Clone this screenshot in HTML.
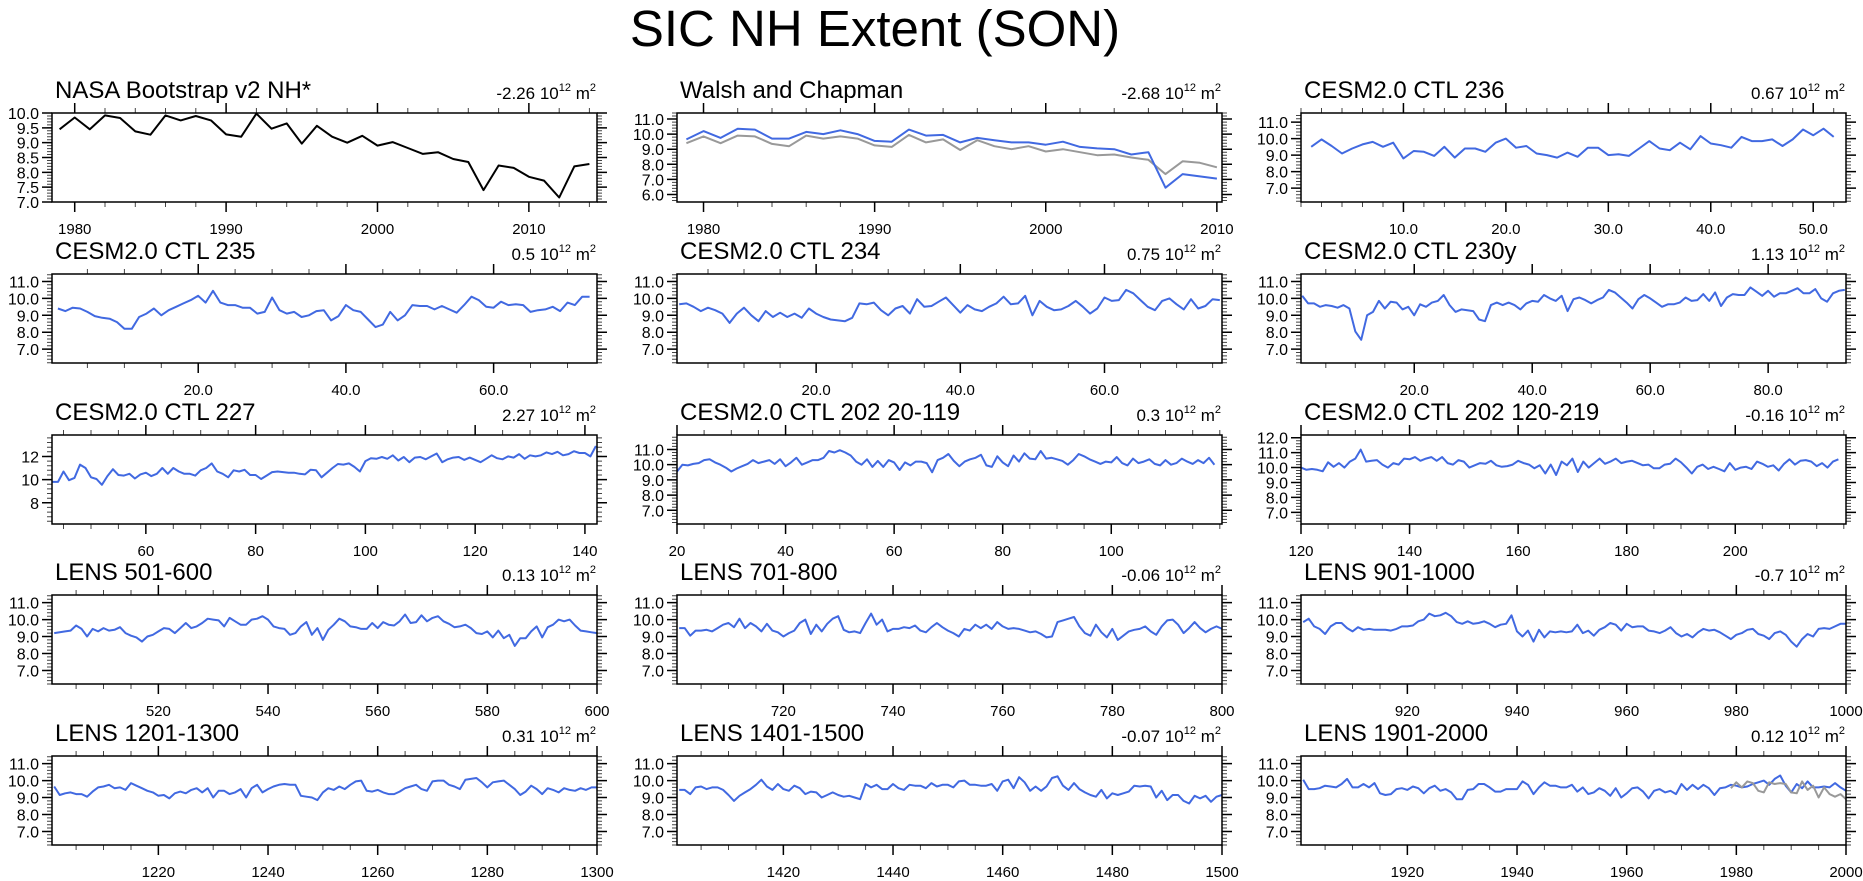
<!DOCTYPE html>
<html><head><meta charset="utf-8"><title>SIC NH Extent (SON)</title>
<style>
html,body{margin:0;padding:0;background:#fff;}
svg{display:block;font-family:"Liberation Sans",Arial,sans-serif;}
</style></head>
<body>
<svg id="chart" width="1863" height="881" viewBox="0 0 1863 881" xmlns="http://www.w3.org/2000/svg">
<text x="875" y="46" font-size="51" text-anchor="middle" fill="#000">SIC NH Extent (SON)</text>
</svg>
<script>
const titles = ["NASA Bootstrap v2 NH*","Walsh and Chapman","CESM2.0 CTL 236","CESM2.0 CTL 235","CESM2.0 CTL 234","CESM2.0 CTL 230y","CESM2.0 CTL 227","CESM2.0 CTL 202 20-119","CESM2.0 CTL 202 120-219","LENS 501-600","LENS 701-800","LENS 901-1000","LENS 1201-1300","LENS 1401-1500","LENS 1901-2000"];
const trends = ["-2.26","-2.68","0.67","0.5","0.75","1.13","2.27","0.3","-0.16","0.13","-0.06","-0.7","0.31","-0.07","0.12"];
const xStarts = [1979,1979,1,1,1,1,43,20,120,501,701,901,1201,1401,1901];
const xRanges = [[1978.5,2014.5],[1978.45,2010.3],[0,53.2],[0.2,74],[0.7,76.3],[0.8,93.2],[42.9,142.2],[20,120.4],[120,220.4],[500.6,600],[700.6,800],[900.6,1000],[1200.6,1300],[1400.6,1500],[1900.6,2000]];
const yRanges = [[7,10],[5.5,11.4],[6.16,11.55],[6.18,11.44],[6.18,11.44],[6.18,11.44],[6.17,13.85],[6.1,11.95],[6.22,12.18],[6.2,11.45],[6.2,11.45],[6.2,11.45],[6.2,11.45],[6.2,11.45],[6.2,11.45]];
const yTicks = [[7,7.5,8,8.5,9,9.5,10],[6,7,8,9,10,11],[7,8,9,10,11],[7,8,9,10,11],[7,8,9,10,11],[7,8,9,10,11],[8,10,12],[7,8,9,10,11],[7,8,9,10,11,12],[7,8,9,10,11],[7,8,9,10,11],[7,8,9,10,11],[7,8,9,10,11],[7,8,9,10,11],[7,8,9,10,11]];
const xTicks = [[1980,1990,2000,2010],[1980,1990,2000,2010],[10,20,30,40,50],[20,40,60],[20,40,60],[20,40,60,80],[60,80,100,120,140],[20,40,60,80,100],[120,140,160,180,200],[520,540,560,580,600],[720,740,760,780,800],[920,940,960,980,1000],[1220,1240,1260,1280,1300],[1420,1440,1460,1480,1500],[1920,1940,1960,1980,2000]];
const xTickLabels = [["1980","1990","2000","2010"],["1980","1990","2000","2010"],["10.0","20.0","30.0","40.0","50.0"],["20.0","40.0","60.0"],["20.0","40.0","60.0"],["20.0","40.0","60.0","80.0"],["60","80","100","120","140"],["20","40","60","80","100"],["120","140","160","180","200"],["520","540","560","580","600"],["720","740","760","780","800"],["920","940","960","980","1000"],["1220","1240","1260","1280","1300"],["1420","1440","1460","1480","1500"],["1920","1940","1960","1980","2000"]];

const nasa = [9.45,9.85,9.45,9.92,9.83,9.38,9.27,9.92,9.75,9.9,9.75,9.28,9.2,9.98,9.47,9.65,8.97,9.57,9.2,9.0,9.23,8.9,9.02,8.82,8.62,8.68,8.45,8.35,7.4,8.23,8.15,7.85,7.72,7.15,8.2,8.28];
const walshBlue = [9.65,10.2,9.75,10.35,10.3,9.7,9.7,10.15,10.0,10.25,10.0,9.55,9.5,10.3,9.9,9.95,9.45,9.75,9.6,9.45,9.45,9.3,9.5,9.15,9.05,9.0,8.65,8.8,6.45,7.35,7.2,7.05];
const walshGray = [9.4,9.85,9.4,9.9,9.85,9.35,9.2,9.9,9.7,9.85,9.7,9.25,9.15,9.95,9.45,9.65,8.95,9.6,9.2,9.0,9.2,8.85,9.0,8.8,8.6,8.65,8.45,8.3,7.35,8.2,8.1,7.8];
const ctl236 = [9.5,9.95,9.55,9.1,9.4,9.65,9.8,9.5,9.75,8.8,9.25,9.2,8.95,9.5,8.85,9.4,9.4,9.2,9.75,10.0,9.45,9.55,9.1,9.0,8.85,9.15,8.9,9.45,9.45,9.0,9.05,8.95,9.4,9.85,9.4,9.3,9.75,9.35,10.15,9.7,9.6,9.45,10.1,9.85,9.85,9.95,9.55,9.95,10.55,10.2,10.6,10.1];
const ctl235 = [9.4,9.25,9.45,9.4,9.2,8.95,8.85,8.8,8.6,8.2,8.2,8.9,9.1,9.4,9.0,9.3,9.5,9.7,9.9,10.15,9.75,10.45,9.75,9.6,9.6,9.45,9.45,9.1,9.2,10.05,9.3,9.1,9.2,8.9,9.0,9.25,9.3,8.7,8.95,9.6,9.3,9.2,8.75,8.3,8.45,9.2,8.7,9.0,9.6,9.55,9.55,9.35,9.55,9.35,9.15,9.6,10.1,9.9,9.5,9.45,9.8,9.6,9.65,9.6,9.2,9.3,9.35,9.5,9.25,9.75,9.6,10.1,10.1];
const ctl234 = [9.65,9.7,9.5,9.25,9.45,9.3,9.1,8.55,9.1,9.45,9.0,8.65,9.25,8.9,9.15,8.9,9.1,8.85,9.4,9.1,8.9,8.75,8.7,8.65,8.85,9.7,9.65,9.75,9.3,9.0,9.4,9.55,9.1,9.95,9.5,9.55,9.8,10.05,9.6,9.15,9.6,9.35,9.25,9.5,9.7,10.1,9.65,9.7,10.15,9.0,9.85,9.5,9.3,9.35,9.55,9.85,9.5,9.1,9.4,10.05,9.85,9.9,10.5,10.3,9.9,9.5,9.3,9.85,10.0,9.65,9.35,9.95,9.4,9.55,9.95,9.9];
const ctl230y = [10.15,9.7,9.7,9.5,9.6,9.55,9.45,9.6,9.4,8.05,7.55,9.0,9.2,9.85,9.4,9.8,9.75,9.35,9.5,9.0,9.65,9.5,9.75,9.85,10.2,9.6,9.2,9.35,9.3,9.25,8.75,8.65,9.6,9.75,9.6,9.75,9.6,9.35,9.7,9.85,9.8,10.2,10.0,9.85,10.15,9.25,9.95,10.05,9.9,9.7,9.9,10.05,10.5,10.35,10.05,9.75,9.4,9.95,10.2,10.0,9.75,9.5,9.65,9.65,9.75,10.05,9.85,9.9,10.25,9.85,10.35,9.55,10.05,10.25,10.2,10.2,10.65,10.4,10.15,10.45,10.1,10.3,10.3,10.45,10.6,10.3,10.3,10.55,10.0,9.8,10.3,10.45,10.5];
const ctl227 = [9.8,9.8,10.7,9.95,10.15,11.3,11.0,10.2,10.05,9.55,10.3,10.9,10.4,10.35,10.5,10.1,10.45,10.6,10.3,10.5,11.0,10.5,11.0,10.7,10.5,10.5,10.35,10.8,11.0,11.4,10.7,10.5,10.2,10.8,10.7,10.85,10.4,10.4,10.05,10.35,10.65,10.7,10.65,10.6,10.6,10.5,10.45,10.85,10.8,10.2,10.6,11.0,11.35,11.3,11.4,11.1,10.7,11.6,11.85,11.8,11.95,11.8,12.1,11.65,11.95,11.5,11.9,11.95,11.75,12.0,12.25,11.5,11.75,11.9,11.95,11.7,11.9,11.7,11.5,11.8,12.1,11.85,11.75,12.0,11.9,12.2,11.8,12.1,12.0,12.1,12.35,12.2,12.4,12.1,12.2,12.45,12.3,12.3,12.0,12.9];
const ctl202a = [9.55,10.0,9.95,10.05,10.1,10.3,10.35,10.15,10.0,9.8,9.55,9.75,9.9,10.05,10.3,10.1,10.2,10.3,10.05,10.35,9.9,10.15,10.45,10.0,10.15,10.3,10.3,10.45,10.9,10.8,10.95,10.8,10.6,10.2,10.0,10.35,9.85,10.25,9.85,10.3,10.15,9.65,10.15,9.95,10.2,10.2,10.1,9.5,10.3,10.45,10.7,10.25,9.9,10.2,10.35,10.45,10.65,9.95,9.85,10.55,10.15,9.9,10.6,10.2,10.75,10.4,10.35,10.9,10.4,10.45,10.35,10.25,10.0,10.3,10.7,10.55,10.35,10.2,10.05,10.2,10.15,10.5,10.1,9.95,10.4,10.1,10.2,10.35,10.05,9.95,10.3,10.0,10.1,10.4,10.2,10.05,10.3,10.1,10.45,10.0];
const ctl202b = [10.0,9.85,9.9,9.85,9.75,10.35,10.05,10.3,10.0,10.4,10.6,11.2,10.4,10.45,10.5,10.2,10.0,10.3,10.2,10.6,10.55,10.7,10.45,10.6,10.7,10.45,10.7,10.3,10.2,10.5,10.4,10.0,10.15,10.3,10.25,10.45,10.15,10.05,10.1,10.2,10.45,10.3,10.2,9.95,10.15,9.6,10.2,9.5,10.4,10.15,10.6,9.7,10.4,10.0,10.3,10.6,10.25,10.4,10.6,10.3,10.4,10.45,10.3,10.15,10.2,9.95,9.95,10.2,10.25,10.6,10.35,10.0,9.6,10.05,10.2,9.9,10.05,9.9,9.75,10.3,9.85,10.0,10.05,9.9,10.4,10.25,10.05,10.15,9.8,10.25,10.55,10.2,10.45,10.5,10.4,10.1,10.3,10.0,10.4,10.55];
const lens501 = [9.2,9.25,9.3,9.35,9.65,9.45,9.0,9.45,9.3,9.5,9.35,9.4,9.55,9.2,9.05,8.95,8.7,9.0,9.1,9.3,9.5,9.45,9.2,9.5,9.8,9.5,9.6,9.8,10.05,10.0,9.95,9.6,10.1,9.9,9.7,9.7,10.0,10.05,10.2,10.0,9.6,9.5,9.45,9.1,9.2,9.6,9.85,9.1,9.5,8.8,9.4,9.7,10.05,9.9,9.6,9.55,9.45,9.45,9.8,9.5,9.85,9.7,9.65,9.9,10.3,9.8,9.85,10.25,9.9,10.1,10.2,9.9,9.75,9.55,9.6,9.7,9.5,9.2,9.15,9.3,8.95,9.35,8.9,9.1,8.45,8.9,8.9,9.3,9.6,8.95,9.55,9.7,10.0,9.9,10.0,9.65,9.35,9.3,9.25,9.2];
const lens701 = [9.5,9.5,9.05,9.35,9.35,9.4,9.3,9.5,9.7,9.8,9.55,10.05,9.5,9.8,9.6,9.3,9.75,9.35,9.25,9.0,9.2,9.35,9.8,10.0,9.15,9.7,9.3,9.75,10.05,10.2,9.4,9.25,9.3,9.2,9.8,10.35,9.7,10.0,9.3,9.45,9.45,9.55,9.5,9.65,9.35,9.25,9.55,9.8,9.55,9.35,9.2,9.0,9.45,9.35,9.7,9.5,9.7,9.45,9.85,9.6,9.45,9.5,9.45,9.35,9.25,9.3,9.15,8.95,9.0,9.85,9.95,10.05,10.15,9.6,9.2,9.05,9.7,9.25,8.95,9.45,8.8,9.05,9.3,9.4,9.45,9.6,9.3,9.1,9.6,9.95,10.0,9.7,9.2,9.5,9.85,9.5,9.25,9.45,9.6,9.45];
const lens901 = [9.85,10.05,9.6,9.45,9.15,9.6,9.8,9.8,9.5,9.3,9.55,9.4,9.45,9.4,9.4,9.4,9.35,9.45,9.6,9.6,9.65,9.9,10.0,10.35,10.2,10.25,10.4,10.2,9.85,9.75,9.9,9.75,9.8,9.9,9.75,9.55,9.7,9.75,10.25,9.3,9.0,9.35,8.7,9.4,8.95,9.3,9.25,9.3,9.25,9.3,9.7,9.2,9.35,9.05,9.4,9.55,9.8,9.7,9.35,9.75,9.55,9.6,9.6,9.35,9.3,9.2,9.35,9.55,9.2,9.0,9.15,8.95,9.25,9.45,9.35,9.4,9.25,9.05,8.85,9.1,9.2,9.4,9.45,9.15,9.05,8.85,9.2,9.3,9.1,8.7,8.4,8.85,9.15,9.0,9.45,9.5,9.45,9.6,9.75,9.75];
const lens1201 = [9.65,9.15,9.25,9.3,9.2,9.2,9.05,9.35,9.6,9.65,9.75,9.55,9.6,9.45,9.85,9.7,9.55,9.4,9.3,9.1,9.15,8.95,9.25,9.35,9.25,9.45,9.55,9.3,9.55,9.0,9.4,9.4,9.2,9.3,9.5,9.0,9.55,9.75,9.3,9.5,9.65,9.75,9.8,9.75,9.75,9.1,9.05,9.0,8.85,9.3,9.55,9.45,9.65,9.5,9.75,9.95,10.0,9.4,9.35,9.45,9.3,9.2,9.2,9.35,9.55,9.65,9.75,9.5,9.4,9.95,10.0,10.0,9.75,9.65,9.5,10.05,10.1,10.15,9.9,9.6,9.9,9.95,10.0,9.75,9.5,9.15,9.35,9.7,9.5,9.2,9.55,9.45,9.3,9.55,9.45,9.4,9.55,9.45,9.6,9.6];
const lens1401 = [9.45,9.45,9.2,9.6,9.65,9.5,9.6,9.6,9.45,9.15,8.8,9.1,9.3,9.5,9.75,10.05,9.65,9.45,9.8,9.5,9.4,9.7,9.55,9.2,9.35,9.3,9.0,9.15,9.3,9.15,9.05,9.1,9.0,8.9,9.8,9.6,9.75,9.5,9.5,9.8,9.55,9.45,9.75,9.7,9.7,9.55,9.85,9.65,9.75,9.75,9.6,9.95,10.0,9.75,9.75,9.7,9.7,9.8,9.4,9.95,10.05,9.55,10.2,9.9,9.4,9.65,9.4,9.65,10.15,10.25,9.7,9.45,9.85,9.5,9.3,9.15,9.05,9.45,8.95,9.25,9.15,9.25,9.35,9.7,9.65,9.7,9.65,9.0,9.4,8.85,9.15,9.15,8.8,8.65,9.1,8.95,9.1,8.75,9.05,9.15];
const lens1901 = [10.05,9.5,9.5,9.55,9.7,9.65,9.6,9.8,10.1,9.6,9.6,9.8,9.6,9.85,9.25,9.15,9.2,9.5,9.55,9.45,9.65,9.55,9.25,9.55,9.7,9.4,9.5,9.3,8.9,8.9,9.45,9.5,9.8,9.8,9.6,9.35,9.35,9.5,9.5,9.5,9.95,9.75,9.2,9.6,9.9,9.7,9.7,9.6,9.6,9.75,9.35,9.6,9.2,9.3,9.55,9.4,9.1,9.55,9.0,9.25,9.55,9.6,9.35,8.95,9.4,9.5,9.3,9.4,9.2,9.8,9.45,9.75,9.5,9.75,9.55,9.15,9.55,9.6,9.75,9.7,9.6,9.65,9.8,9.9,10.0,9.75,10.1,10.3,9.7,9.3,9.8,9.55,9.95,9.6,9.6,9.65,9.6,9.85,9.6,9.4];
const lens1901Obs = [9.55,9.9,9.6,9.95,9.85,9.4,9.3,9.9,9.8,9.85,9.8,9.3,9.25,9.95,9.45,9.7,9.0,9.6,9.2,9.05,9.2,8.9];

const seriesList = [
  [{d:nasa,c:"#000",s:1979}],
  [{d:walshGray,c:"#999",s:1979},{d:walshBlue,c:"#4169e1",s:1979}],
  [{d:ctl236,c:"#4169e1",s:1}],[{d:ctl235,c:"#4169e1",s:1}],[{d:ctl234,c:"#4169e1",s:1}],[{d:ctl230y,c:"#4169e1",s:1}],
  [{d:ctl227,c:"#4169e1",s:43}],[{d:ctl202a,c:"#4169e1",s:20}],[{d:ctl202b,c:"#4169e1",s:120}],
  [{d:lens501,c:"#4169e1",s:501}],[{d:lens701,c:"#4169e1",s:701}],[{d:lens901,c:"#4169e1",s:901}],
  [{d:lens1201,c:"#4169e1",s:1201}],[{d:lens1401,c:"#4169e1",s:1401}],
  [{d:lens1901,c:"#4169e1",s:1901},{d:lens1901Obs,c:"#999",s:1979}]
];
const xMinorSteps = [2,2,2,5,5,5,5,5,5,5,5,5,5,5,5];
const yMinorSteps = [0.1,0.2,0.2,0.2,0.2,0.2,0.4,0.2,0.2,0.2,0.2,0.2,0.2,0.2,0.2];

const NS="http://www.w3.org/2000/svg";
const svg=document.getElementById("chart");
const colLeft=[52,677,1301], rowTop=[113,274,435,595,756], PW=545, PH=89;
function mk(tag,attrs,parent){const e=document.createElementNS(NS,tag);for(const k in attrs)e.setAttribute(k,attrs[k]);(parent||svg).appendChild(e);return e;}

for(let p=0;p<15;p++){
  const L=colLeft[p%3], T=rowTop[Math.floor(p/3)], R=L+PW, B=T+PH;
  const [x0,x1]=xRanges[p], [y0,y1]=yRanges[p];
  const xs=v=>L+(v-x0)/(x1-x0)*PW;
  const ys=v=>B-(v-y0)/(y1-y0)*PH;
  const g=mk("g",{});
  
  
  const t=mk("text",{x:L+3,y:T-15,"font-size":24,fill:"#000"},g);
  
  
  t.textContent=titles[p];
  const st=mk("text",{x:R-1,y:T-14,"font-size":17,"text-anchor":"end",fill:"#000"},g);
  
  
  st.appendChild(document.createTextNode(trends[p]+" 10"));
  const s1=mk("tspan",{"font-size":11,dy:-8},st); s1.textContent="12";
  const s2=mk("tspan",{dy:8},st); s2.textContent=" m";
  const s3=mk("tspan",{"font-size":11,dy:-8},st); s3.textContent="2";
  let path="";
  for(let v=Math.ceil(y0/yMinorSteps[p]-1e-6)*yMinorSteps[p]; v<=y1+1e-9; v+=yMinorSteps[p]){
    const y=ys(v).toFixed(1); path+=`M${L} ${y}h-5M${R} ${y}h5`;
  }
  for(let v=Math.ceil(x0/xMinorSteps[p]-1e-6)*xMinorSteps[p]; v<=x1+1e-9; v+=xMinorSteps[p]){
    const x=xs(v).toFixed(1); path+=`M${x} ${B}v5M${x} ${T}v-5`;
  }
  const mn=mk("path",{d:path,stroke:"#444","stroke-width":1,fill:"none"},g);
  
  
  let mp="";
  yTicks[p].forEach(v=>{const y=ys(v);mp+=`M${L} ${y}h-10M${R} ${y}h10`;
    const tl=mk("text",{x:L-13,y:y+6,"font-size":16,"text-anchor":"end",fill:"#000"},g);
    
    
    tl.textContent=(p===6)?String(v):v.toFixed(1);});
  xTicks[p].forEach((v,i)=>{const x=xs(v);mp+=`M${x} ${B}v10M${x} ${T}v-10`;
    const tl=mk("text",{x:x,y:B+32,"font-size":15,"text-anchor":"middle",fill:"#000"},g);
    
    
    tl.textContent=xTickLabels[p][i];});
  const mj=mk("path",{d:mp,stroke:"#000","stroke-width":1.5,fill:"none"},g);
  
  
  seriesList[p].forEach((s,si)=>{
    const pts=s.d.map((v,i)=>xs(s.s+i).toFixed(1)+","+ys(v).toFixed(1)).join(" ");
    const pl=mk("polyline",{points:pts,fill:"none",stroke:s.c,"stroke-width":2,"stroke-linejoin":"round"},g);
    
    
  });
  const fr=mk("rect",{x:L,y:T,width:PW,height:PH,fill:"none",stroke:"#000","stroke-width":1.5},g);
  
  
}
</script>
</body></html>
